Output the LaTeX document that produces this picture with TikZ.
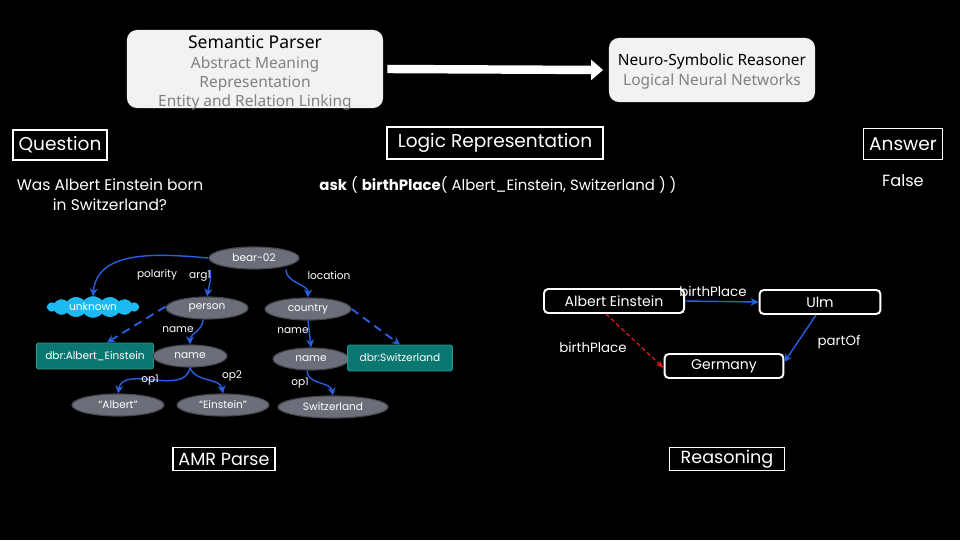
\documentclass[tikz,border=0pt]{standalone}
\usepackage{fontspec}
\setmainfont{Poppins}
\newfontfamily\plexish{Noto Sans}
\usetikzlibrary{arrows.meta,positioning,shapes.geometric,shapes.symbols}
\definecolor{slidebg}{RGB}{0,0,0}
\definecolor{panelfill}{RGB}{242,242,242}
\definecolor{paneltext}{RGB}{128,128,128}
\definecolor{amrgrey}{RGB}{108,111,122}
\definecolor{amrgreyline}{RGB}{70,72,80}
\definecolor{dbrteal}{RGB}{10,120,112}
\definecolor{dbrtealline}{RGB}{40,150,140}
\definecolor{polcyan}{RGB}{30,185,240}
\definecolor{relblue}{RGB}{40,95,225}
\definecolor{infred}{RGB}{225,25,25}
\tikzset{
  panel/.style={rounded corners=7pt,fill=panelfill,draw=none,align=center,
                font=\plexish,inner sep=0pt},
  tag/.style={draw=white,line width=1pt,text=white,inner sep=0pt,minimum height=0.75cm,
              font=\fontsize{13.2}{16}\selectfont},
  plain/.style={text=white,align=center,inner sep=0pt},
  amr/.style={ellipse,fill=amrgrey,draw=amrgreyline,line width=.8pt,text=white,
              minimum height=0.55cm,inner sep=0pt,font=\fontsize{7.5}{9}\selectfont},
  dbr/.style={rectangle,rounded corners=1.5pt,fill=dbrteal,draw=dbrtealline,line width=.6pt,
              text=white,minimum height=0.65cm,inner sep=0pt,font=\fontsize{7.5}{9}\selectfont},
  rel/.style={text=white,inner sep=0pt,font=\fontsize{7.5}{9}\selectfont},
  fact/.style={draw=white,line width=1.4pt,rounded corners=3pt,text=white,
               minimum height=0.6cm,inner sep=0pt,font=\fontsize{10}{12}\selectfont},
  amrarrow/.style={-{Stealth[length=2mm,width=2mm]},draw=relblue,line width=1pt},
  linkarrow/.style={amrarrow,dash pattern=on 6pt off 4pt,line width=1.3pt},
  inferarrow/.style={-{Stealth[length=2mm]},draw=infred,densely dashed,line width=.9pt},
}
\begin{document}
\begin{tikzpicture}[x=0.025cm,y=-0.025cm]
  \fill[slidebg] (0,0) rectangle (960,540);
  \useasboundingbox (0,0) rectangle (960,540);

  % pipeline on top
  \node[panel,minimum width=6.4cm,minimum height=1.95cm] (parser) at (255,69) {};
  \node[font=\plexish\fontsize{12.5}{14}\selectfont,inner sep=0pt] (parsertitle) at (255,42) {Semantic Parser};
  \node[text=paneltext,font=\plexish\fontsize{11}{13.5}\selectfont,align=center,inner sep=0pt,anchor=north]
    (parserlines) at (255,56) {Abstract Meaning\\Representation\\Entity and Relation Linking};
  \node[panel,minimum width=5.15cm,minimum height=1.6cm] (reasoner) at (712,70) {};
  \node[font=\plexish\fontsize{11}{13}\selectfont,inner sep=0pt] (reasonertitle) at (712,61) {Neuro-Symbolic Reasoner};
  \node[text=paneltext,font=\plexish\fontsize{11}{13}\selectfont,inner sep=0pt] (reasonersub) at (712,81) {Logical Neural Networks};
  \draw[-{Triangle[length=3mm,width=5mm]},white,line width=6pt] (parser.east) ++(4,0) coordinate (pipeout)
    (pipeout) -- ([xshift=-4pt]reasoner.west);

  % section tags
  \node[tag,minimum width=2.35cm] (question) at (60,145) {Question};
  \node[tag,minimum width=5.4cm,minimum height=0.8cm] (logic) at (495,143) {Logic Representation};
  \node[tag,minimum width=1.98cm,minimum height=0.78cm] (answer) at (903,144) {Answer};
  \node[tag,minimum width=2.55cm,minimum height=0.58cm,font=\fontsize{12.5}{14}\selectfont] (amrtag) at (224,459) {AMR Parse};
  \node[tag,minimum width=2.88cm,minimum height=0.58cm,font=\fontsize{12.5}{14}\selectfont] (reasontag) at (727,459) {Reasoning};

  \node[plain,font=\fontsize{11}{14}\selectfont] (qtext) at (110,195) {Was Albert Einstein born\\in Switzerland?};
  \node[plain,font=\fontsize{10.6}{13}\selectfont] (logicform) at (498,185)
    {\textbf{ask} ( \textbf{birthPlace}( Albert\_Einstein, Switzerland ) )};
  \node[plain,font=\fontsize{11.5}{14}\selectfont] (falsetext) at (903,181) {False};

  % AMR graph
  \node[amr,minimum width=2.25cm] (bear) at (254,258) {bear-02};
  \node[amr,minimum width=2.05cm] (person) at (207,308) {person};
  \node[amr,minimum width=2.15cm] (country) at (308,309) {country};
  \node[cloud,cloud puffs=16,cloud puff arc=100,aspect=4.5,fill=polcyan,draw=polcyan,text=white,
        minimum width=2.3cm,minimum height=0.5cm,inner sep=0pt,font=\fontsize{7.5}{9}\selectfont]
    (unknown) at (93,307) {unknown};
  \node[dbr,minimum width=2.92cm] (dbrae) at (95,356) {dbr:Albert\_Einstein};
  \node[amr,minimum width=1.85cm] (namep) at (190,356) {name};
  \node[amr,minimum width=1.9cm] (namec) at (311,359) {name};
  \node[dbr,minimum width=2.62cm] (dbrsw) at (400,358) {dbr:Switzerland};
  \node[amr,minimum width=2.3cm] (albert) at (118,405) {``Albert''};
  \node[amr,minimum width=2.3cm] (einstein) at (223,405) {``Einstein''};
  \node[amr,minimum width=2.75cm] (switz) at (333,407) {Switzerland};

  \draw[amrarrow] (bear.west) to[out=175,in=85] (unknown.north);
  \draw[amrarrow] ([xshift=-1.1cm]bear.south) to[out=-80,in=80] (person.north);
  \draw[amrarrow] ([xshift=0.8cm]bear.south) to[out=-90,in=90] (country.north);
  \draw[amrarrow] ([xshift=-0.1cm]person.south) to[out=-90,in=90] (namep.north);
  \draw[linkarrow] ([yshift=1pt]person.west) -- ([xshift=0.3cm]dbrae.north);
  \draw[amrarrow] (country.south) -- (namec.north);
  \draw[linkarrow] (country.east) -- (dbrsw.north);
  \draw[amrarrow] (namep.south) to[out=-100,in=80] (albert.north);
  \draw[amrarrow] (namep.south) to[out=-70,in=100] (einstein.north);
  \draw[amrarrow] ([xshift=-0.1cm]namec.south) to[out=-90,in=100] (switz.north);

  \node[rel] (lpolarity) at (157,275) {polarity};
  \node[rel] (larg) at (200,276) {arg1};
  \node[rel] (llocation) at (329,276) {location};
  \node[rel] (lnamep) at (178,330) {name};
  \node[rel] (lnamec) at (293,331) {name};
  \node[rel] (lopa) at (150,380) {op1};
  \node[rel] (lopb) at (232,376) {op2};
  \node[rel] (lopc) at (300,383) {op1};

  % reasoning graph
  \node[fact,minimum width=3.5cm] (ae) at (614,301) {Albert Einstein};
  \node[fact,minimum width=3.02cm] (ulm) at (820,302) {Ulm};
  \node[fact,minimum width=2.97cm] (germany) at (724,366) {Germany};
  \draw[amrarrow] (ae.east) -- (ulm.west);
  \draw[amrarrow] ([xshift=-0.1cm]ulm.south) -- ([yshift=0.1cm]germany.east);
  \draw[inferarrow] ([xshift=-0.2cm]ae.south) -- ([yshift=-0.05cm]germany.west);
  \node[rel,font=\fontsize{9.5}{11}\selectfont] (lborn) at (713,291) {birthPlace};
  \node[rel,font=\fontsize{9.5}{11}\selectfont] (lpart) at (839,342) {partOf};
  \node[rel,font=\fontsize{9.5}{11}\selectfont] (linfer) at (593,347) {birthPlace};
\end{tikzpicture}
\end{document}
